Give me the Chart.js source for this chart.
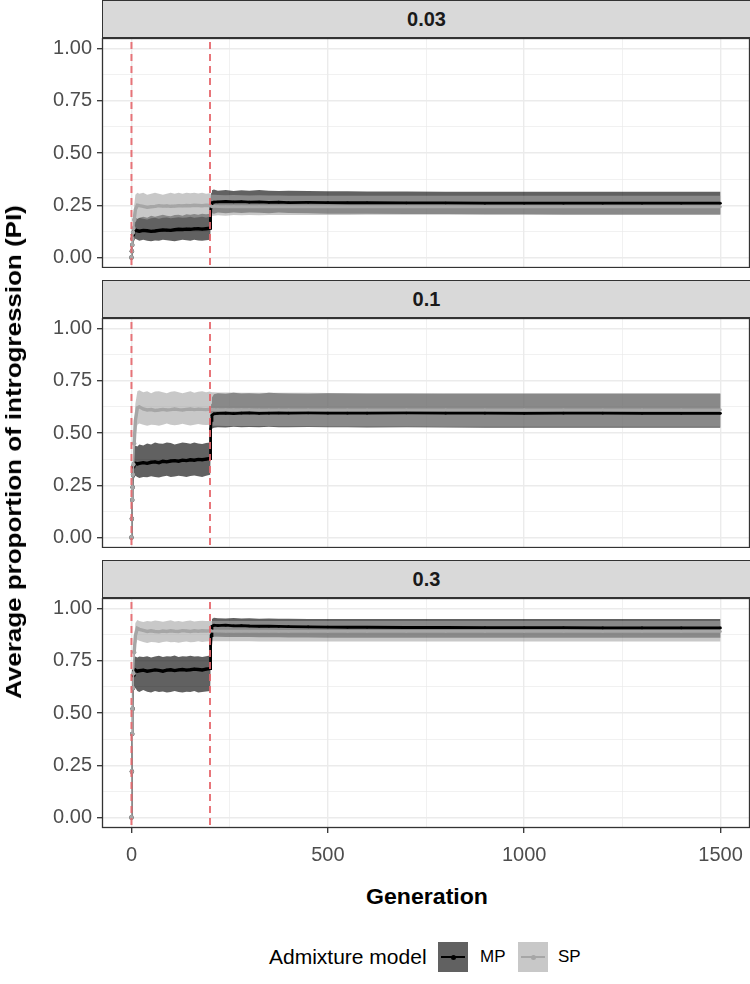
<!DOCTYPE html>
<html><head><meta charset="utf-8">
<script src="https://cdn.jsdelivr.net/npm/chart.js@4.4.0/dist/chart.umd.min.js"></script>
<style>
html,body{margin:0;padding:0;background:#fff;width:750px;height:984px;overflow:hidden;font-family:"Liberation Sans",Arial,sans-serif;}
.strip{position:absolute;left:102px;width:649px;height:38px;background:#d9d9d9;border:1px solid #333;box-sizing:border-box;text-align:center;line-height:36px;font-weight:bold;font-size:20px;color:#1a1a1a;}
.pw{position:absolute;left:0;width:750px;}
.txt{position:absolute;white-space:nowrap;color:#000;}
.key{position:absolute;width:30px;height:30px;}
.key .ln{position:absolute;left:3px;width:24px;top:14px;height:2px;}
.key .dt{position:absolute;left:12.5px;top:12.5px;width:5px;height:5px;border-radius:50%;}
</style></head><body>
<script>
// ---------------- data ----------------
const generations = [0,1,2,3,4,5,7,10,15,20,
  30,40,50,60,70,80,90,100,110,120,
  130,140,150,160,170,180,190,200,201,202,
  203,205,210,220,240,260,280,300,325,350,
  375,400,450,500,550,600,700,800,900,1000,
  1100,1200,1300,1400,1500];
const facetLabels = ['0.03','0.1','0.3'];
const modelNames = ['MP','SP'];
const xTickValues = [0,250,500,750,1000,1250,1500];
const yTickValues = [0,0.125,0.25,0.375,0.5,0.625,0.75,0.875,1];
const markerGens = [0,200];

// facet 0.03
const mp03 = [0,0.03,0.06,0.09,0.11,0.12,0.13,0.132,0.128,0.126,
  0.13,0.128,0.125,0.127,0.13,0.132,0.131,0.13,0.133,0.135,
  0.134,0.136,0.135,0.137,0.138,0.136,0.138,0.14,0.18,0.22,
  0.25,0.262,0.265,0.266,0.268,0.266,0.267,0.265,0.266,0.264,
  0.265,0.263,0.264,0.263,0.262,0.262,0.261,0.261,0.26,0.26,
  0.26,0.26,0.26,0.26,0.26];
const mp03Lo = [0,0.01,0.03,0.05,0.07,0.08,0.085,0.09,0.085,0.08,
  0.085,0.08,0.078,0.082,0.08,0.085,0.083,0.08,0.078,0.082,
  0.085,0.083,0.08,0.085,0.082,0.08,0.083,0.085,0.12,0.17,
  0.2,0.212,0.21,0.215,0.212,0.215,0.213,0.216,0.214,0.212,
  0.215,0.213,0.212,0.21,0.21,0.21,0.208,0.208,0.207,0.207,
  0.206,0.206,0.206,0.206,0.206];
const mp03Hi = [0,0.05,0.09,0.13,0.15,0.165,0.18,0.19,0.185,0.19,
  0.195,0.19,0.2,0.195,0.2,0.205,0.2,0.198,0.203,0.205,
  0.2,0.207,0.205,0.208,0.205,0.21,0.207,0.21,0.25,0.28,
  0.31,0.322,0.325,0.32,0.323,0.318,0.322,0.32,0.323,0.319,
  0.318,0.32,0.318,0.317,0.317,0.316,0.316,0.315,0.315,0.315,
  0.315,0.315,0.315,0.315,0.315];
const sp03 = [0,0.03,0.06,0.09,0.12,0.14,0.18,0.23,0.25,0.248,
  0.245,0.24,0.243,0.245,0.248,0.246,0.247,0.245,0.246,0.248,
  0.247,0.249,0.248,0.25,0.249,0.248,0.25,0.249,0.248,0.247,
  0.246,0.245,0.245,0.244,0.243,0.244,0.243,0.243,0.244,0.243,
  0.243,0.243,0.243,0.243,0.243,0.243,0.243,0.243,0.243,0.243,
  0.243,0.243,0.243,0.243,0.243];
const sp03Lo = [0,0.01,0.03,0.05,0.07,0.09,0.12,0.17,0.185,0.19,
  0.185,0.182,0.188,0.19,0.186,0.19,0.192,0.188,0.19,0.193,
  0.19,0.192,0.195,0.19,0.193,0.195,0.192,0.195,0.195,0.196,
  0.198,0.2,0.2,0.202,0.2,0.203,0.202,0.203,0.202,0.203,
  0.204,0.203,0.204,0.204,0.204,0.205,0.205,0.205,0.205,0.205,
  0.205,0.205,0.205,0.205,0.205];
const sp03Hi = [0,0.05,0.09,0.13,0.17,0.2,0.25,0.3,0.31,0.305,
  0.31,0.3,0.305,0.31,0.305,0.3,0.305,0.31,0.305,0.31,
  0.305,0.31,0.308,0.31,0.306,0.31,0.305,0.308,0.305,0.303,
  0.302,0.3,0.3,0.299,0.298,0.299,0.298,0.297,0.298,0.297,
  0.297,0.296,0.296,0.296,0.295,0.295,0.295,0.295,0.295,0.295,
  0.295,0.295,0.295,0.295,0.295];

// facet 0.1
const mp1 = [0,0.09,0.18,0.24,0.30,0.34,0.352,0.355,0.352,0.355,
  0.358,0.355,0.36,0.362,0.358,0.365,0.362,0.366,0.368,0.365,
  0.37,0.368,0.372,0.37,0.374,0.372,0.375,0.378,0.45,0.52,
  0.56,0.585,0.592,0.594,0.595,0.593,0.595,0.596,0.594,0.595,
  0.596,0.595,0.596,0.595,0.595,0.595,0.596,0.595,0.595,0.594,
  0.595,0.595,0.594,0.594,0.594];
const mp1Lo = [0,0.07,0.14,0.19,0.24,0.27,0.285,0.295,0.29,0.285,
  0.29,0.288,0.293,0.29,0.287,0.292,0.295,0.29,0.292,0.296,
  0.293,0.29,0.294,0.297,0.293,0.29,0.295,0.3,0.38,0.46,
  0.5,0.52,0.525,0.528,0.526,0.53,0.527,0.529,0.527,0.53,
  0.528,0.527,0.529,0.528,0.527,0.526,0.527,0.526,0.525,0.525,
  0.525,0.525,0.525,0.525,0.525];
const mp1Hi = [0,0.11,0.22,0.29,0.36,0.41,0.43,0.44,0.435,0.445,
  0.44,0.45,0.445,0.455,0.45,0.448,0.455,0.452,0.445,0.45,
  0.455,0.452,0.448,0.455,0.45,0.447,0.452,0.455,0.52,0.6,
  0.64,0.67,0.685,0.69,0.688,0.692,0.689,0.69,0.688,0.692,
  0.69,0.689,0.688,0.69,0.689,0.688,0.688,0.688,0.688,0.688,
  0.688,0.688,0.688,0.688,0.688];
const sp1 = [0,0.09,0.18,0.24,0.30,0.35,0.45,0.56,0.62,0.625,
  0.615,0.61,0.612,0.608,0.61,0.613,0.61,0.612,0.615,0.612,
  0.61,0.613,0.615,0.612,0.614,0.613,0.612,0.614,0.614,0.613,
  0.613,0.613,0.612,0.612,0.612,0.612,0.612,0.612,0.611,0.611,
  0.611,0.611,0.611,0.611,0.611,0.611,0.611,0.611,0.611,0.611,
  0.611,0.611,0.611,0.611,0.611];
const sp1Lo = [0,0.07,0.14,0.19,0.24,0.28,0.37,0.48,0.54,0.545,
  0.54,0.535,0.54,0.538,0.535,0.54,0.545,0.54,0.537,0.54,
  0.544,0.54,0.536,0.54,0.543,0.54,0.538,0.54,0.54,0.538,
  0.537,0.536,0.535,0.535,0.534,0.534,0.533,0.534,0.533,0.533,
  0.532,0.532,0.532,0.531,0.531,0.531,0.531,0.53,0.53,0.53,
  0.53,0.53,0.53,0.53,0.53];
const sp1Hi = [0,0.11,0.22,0.29,0.36,0.42,0.53,0.64,0.7,0.705,
  0.695,0.7,0.69,0.698,0.7,0.695,0.69,0.697,0.7,0.695,
  0.69,0.695,0.7,0.693,0.697,0.7,0.695,0.698,0.697,0.696,
  0.696,0.695,0.695,0.694,0.694,0.694,0.693,0.693,0.693,0.692,
  0.692,0.692,0.692,0.691,0.691,0.691,0.691,0.69,0.69,0.69,
  0.69,0.69,0.69,0.69,0.69];

// facet 0.3
const mp3 = [0,0.22,0.40,0.52,0.62,0.68,0.7,0.705,0.7,0.702,
  0.705,0.7,0.703,0.706,0.704,0.7,0.705,0.707,0.703,0.706,
  0.708,0.705,0.707,0.71,0.708,0.706,0.71,0.712,0.78,0.82,
  0.87,0.915,0.92,0.918,0.92,0.917,0.918,0.916,0.915,0.915,
  0.914,0.913,0.912,0.911,0.91,0.91,0.909,0.909,0.908,0.908,
  0.908,0.907,0.907,0.907,0.907];
const mp3Lo = [0,0.2,0.36,0.47,0.56,0.61,0.62,0.62,0.605,0.6,
  0.61,0.602,0.598,0.605,0.6,0.603,0.598,0.6,0.605,0.6,
  0.598,0.602,0.6,0.605,0.598,0.6,0.603,0.605,0.7,0.77,
  0.82,0.86,0.865,0.865,0.864,0.863,0.864,0.863,0.862,0.862,
  0.862,0.861,0.861,0.86,0.86,0.86,0.86,0.86,0.86,0.86,
  0.86,0.86,0.86,0.86,0.86];
const mp3Hi = [0,0.24,0.44,0.57,0.68,0.75,0.765,0.77,0.765,0.77,
  0.768,0.772,0.766,0.77,0.774,0.768,0.772,0.77,0.775,0.768,
  0.772,0.77,0.774,0.77,0.772,0.768,0.772,0.775,0.85,0.88,
  0.92,0.95,0.955,0.953,0.952,0.954,0.952,0.953,0.951,0.952,
  0.951,0.951,0.95,0.95,0.95,0.95,0.95,0.95,0.95,0.95,
  0.95,0.95,0.95,0.95,0.95];
const sp3 = [0,0.22,0.40,0.52,0.62,0.69,0.79,0.87,0.905,0.9,
  0.895,0.89,0.893,0.89,0.888,0.892,0.89,0.893,0.891,0.89,
  0.894,0.892,0.89,0.893,0.891,0.893,0.892,0.893,0.893,0.893,
  0.893,0.892,0.892,0.892,0.891,0.891,0.891,0.891,0.891,0.891,
  0.89,0.89,0.89,0.89,0.89,0.89,0.89,0.89,0.89,0.89,
  0.89,0.89,0.89,0.89,0.89];
const sp3Lo = [0,0.2,0.36,0.47,0.56,0.63,0.73,0.82,0.85,0.845,
  0.84,0.835,0.84,0.838,0.835,0.84,0.842,0.838,0.84,0.836,
  0.84,0.842,0.838,0.84,0.843,0.84,0.842,0.843,0.843,0.843,
  0.843,0.843,0.843,0.843,0.843,0.843,0.843,0.843,0.842,0.842,
  0.842,0.842,0.842,0.842,0.842,0.842,0.842,0.842,0.842,0.842,
  0.842,0.842,0.842,0.842,0.842];
const sp3Hi = [0,0.24,0.44,0.57,0.68,0.75,0.85,0.93,0.945,0.94,
  0.935,0.94,0.938,0.942,0.94,0.936,0.94,0.943,0.938,0.94,
  0.937,0.94,0.942,0.938,0.94,0.941,0.94,0.94,0.94,0.94,
  0.94,0.94,0.94,0.94,0.94,0.94,0.94,0.94,0.94,0.94,
  0.94,0.94,0.94,0.94,0.94,0.94,0.94,0.94,0.94,0.94,
  0.94,0.94,0.94,0.94,0.94];

const facetData = [
  {mp: mp03, mpLo: mp03Lo, mpHi: mp03Hi, sp: sp03, spLo: sp03Lo, spHi: sp03Hi},
  {mp: mp1, mpLo: mp1Lo, mpHi: mp1Hi, sp: sp1, spLo: sp1Lo, spHi: sp1Hi},
  {mp: mp3, mpLo: mp3Lo, mpHi: mp3Hi, sp: sp3, spLo: sp3Lo, spHi: sp3Hi}
];

// ---------------- styling ----------------
const FONT = '"Liberation Sans", Arial, sans-serif';
const MP_FILL = 'rgba(0,0,0,0.62)';
const SP_FILL = 'rgba(163,163,163,0.6)';
const MP_LINE = '#000000';
const SP_LINE = '#a6a6a6';
const PANEL_STEP = 280, STRIP_H = 38, PLOT_H = 230, XAXIS_H = 45;

const pts = arr => generations.map((g, i) => ({x: g, y: arr[i]}));
const isMajorY = v => Math.abs(v * 4 - Math.round(v * 4)) < 1e-9;
const isMajorX = v => v % 500 === 0;

const framePlugin = {
  id: 'frame',
  afterDatasetsDraw(chart) {
    const {ctx, chartArea: a, scales: {x}} = chart;
    ctx.save();
    ctx.beginPath(); ctx.rect(a.left, a.top, a.right - a.left, a.bottom - a.top); ctx.clip();
    ctx.strokeStyle = 'rgba(230,102,108,0.9)';
    ctx.lineWidth = 2;
    ctx.setLineDash([7, 5]);
    markerGens.forEach(g => {
      const px = x.getPixelForValue(g);
      ctx.beginPath(); ctx.moveTo(px, a.top + 4); ctx.lineTo(px, a.bottom); ctx.stroke();
    });
    ctx.restore();
  },
  afterDraw(chart) {
    const {ctx, chartArea: a} = chart;
    ctx.save();
    ctx.strokeStyle = '#333333';
    ctx.lineWidth = 1.3;
    ctx.strokeRect(a.left + 0.5, a.top + 0.5, a.right - a.left - 1, a.bottom - a.top - 1);
    ctx.restore();
  }
};

function segW(ctx) {
  const x = ctx.p1.parsed.x;
  if (x <= 7) return 1.6;
  return x <= 200 ? 3.4 : 2.8;
}
function ptR(ctx) {
  const x = ctx.raw ? ctx.raw.x : 100;
  return x <= 7 ? 2.2 : 1.3;
}

function buildPanel(i) {
  const isBottom = i === facetLabels.length - 1;
  const top = i * PANEL_STEP;
  const strip = document.createElement('div');
  strip.className = 'strip';
  strip.style.top = top + 'px';
  strip.textContent = facetLabels[i];
  document.body.appendChild(strip);

  const wrap = document.createElement('div');
  wrap.className = 'pw';
  wrap.style.top = (top + STRIP_H) + 'px';
  const h = PLOT_H + (isBottom ? XAXIS_H : 0);
  wrap.style.height = h + 'px';
  const cv = document.createElement('canvas');
  cv.width = 750; cv.height = h;
  cv.style.width = '750px'; cv.style.height = h + 'px';
  wrap.appendChild(cv);
  document.body.appendChild(wrap);

  const d = facetData[i];
  const ribbon = (hi, lo, color, order) => [
    {data: pts(hi), fill: '+1', backgroundColor: color, borderColor: 'rgba(0,0,0,0)', borderWidth: 0, pointRadius: 0, pointHoverRadius: 0, order: order},
    {data: pts(lo), fill: false, backgroundColor: color, borderColor: 'rgba(0,0,0,0)', borderWidth: 0, pointRadius: 0, pointHoverRadius: 0, order: order}
  ];
  const line = (arr, color, order) => ({
    data: pts(arr), fill: false, borderColor: color, backgroundColor: color, borderWidth: 2.8,
    segment: {borderWidth: segW},
    pointRadius: ptR, pointHoverRadius: 0, pointBackgroundColor: color, pointBorderWidth: 0, order: order
  });

  new Chart(cv, {
    type: 'line',
    data: {
      datasets: [
        ...ribbon(d.mpHi, d.mpLo, MP_FILL, 6),
        ...ribbon(d.spHi, d.spLo, SP_FILL, 5),
        line(d.mp, MP_LINE, 2),
        line(d.sp, SP_LINE, 1)
      ]
    },
    options: {
      responsive: false, animation: false, devicePixelRatio: 1,
      events: [],
      layout: {padding: 0, autoPadding: false},
      elements: {line: {tension: 0}},
      plugins: {legend: {display: false}, tooltip: {enabled: false}},
      scales: {
        x: {
          type: 'linear', min: -75, max: 1575,
          afterBuildTicks: s => { s.ticks = xTickValues.map(v => ({value: v})); },
          afterFit: s => { s.height = isBottom ? XAXIS_H : 0; s.paddingLeft = 0; s.paddingRight = 0; },
          border: {display: false},
          grid: {
            color: '#ebebeb',
            lineWidth: c => (c.tick && !isMajorX(c.tick.value)) ? 0.7 : 1.4,
            drawTicks: isBottom, tickLength: 5, tickWidth: 1.3,
            tickColor: c => (c.tick && isMajorX(c.tick.value)) ? '#333333' : 'rgba(0,0,0,0)'
          },
          ticks: {
            display: isBottom, autoSkip: false, maxRotation: 0, padding: 10,
            color: '#4d4d4d', font: {family: FONT, size: 20},
            callback: v => isMajorX(v) ? String(v) : ''
          }
        },
        y: {
          type: 'linear', min: -0.05, max: 1.05,
          afterBuildTicks: s => { s.ticks = yTickValues.map(v => ({value: v})); },
          afterFit: s => { s.width = 102; s.paddingTop = 0; s.paddingBottom = 0; },
          border: {display: false},
          grid: {
            color: '#ebebeb',
            lineWidth: c => (c.tick && !isMajorY(c.tick.value)) ? 0.7 : 1.4,
            drawTicks: true, tickLength: 5, tickWidth: 1.3,
            tickColor: c => (c.tick && isMajorY(c.tick.value)) ? '#333333' : 'rgba(0,0,0,0)'
          },
          ticks: {
            autoSkip: false, padding: 5,
            color: '#4d4d4d', font: {family: FONT, size: 20},
            callback: v => isMajorY(v) ? v.toFixed(2) : ''
          }
        }
      }
    },
    plugins: [framePlugin]
  });
}

facetLabels.forEach((_, i) => buildPanel(i));

// axis titles and legend (HTML text)
function addText(txt, css) {
  const el = document.createElement('div');
  el.className = 'txt';
  el.textContent = txt;
  Object.assign(el.style, css);
  document.body.appendChild(el);
  return el;
}
addText('Generation', {left: '427px', top: '897px', transform: 'translate(-50%,-50%) scaleX(1.05)', fontWeight: 'bold', fontSize: '22px'});
addText('Average proportion of introgression (PI)', {left: '14px', top: '452px', transform: 'translate(-50%,-50%) rotate(-90deg) scaleX(1.18)', fontWeight: 'bold', fontSize: '22px'});
addText('Admixture model', {left: '269px', top: '957px', transform: 'translateY(-50%)', fontSize: '21px'});

function addKey(left, fill, lineColor, label, labelLeft) {
  const k = document.createElement('div');
  k.className = 'key';
  k.style.left = left + 'px'; k.style.top = '942px'; k.style.background = fill;
  const ln = document.createElement('div'); ln.className = 'ln'; ln.style.background = lineColor;
  const dt = document.createElement('div'); dt.className = 'dt'; dt.style.background = lineColor;
  k.appendChild(ln); k.appendChild(dt);
  document.body.appendChild(k);
  addText(label, {left: labelLeft + 'px', top: '957px', transform: 'translateY(-50%)', fontSize: '17px'});
}
addKey(438, MP_FILL, MP_LINE, modelNames[0], 480);
addKey(518, SP_FILL, SP_LINE, modelNames[1], 558);
</script>
</body></html>
